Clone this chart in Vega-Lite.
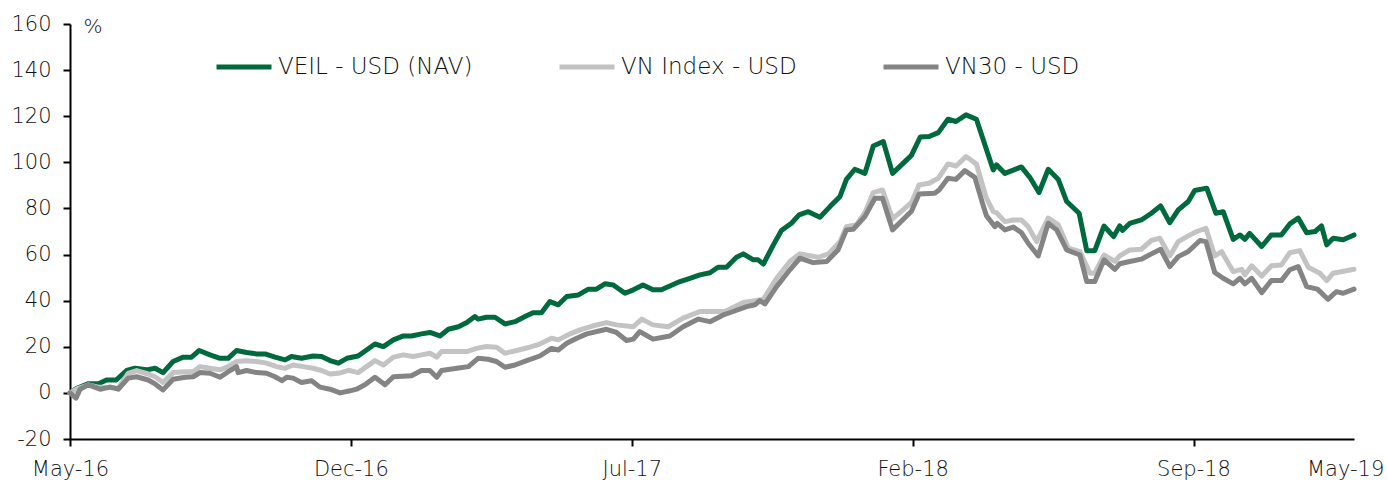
{
  "$schema": "https://vega.github.io/schema/vega-lite/v6.json",
  "autosize": {"type": "none"},
  "width": 1284,
  "height": 415,
  "padding": {"left": 70, "top": 24, "right": 34, "bottom": 41},
  "background": "white",
  "config": {
    "view": {"stroke": null},
    "font": "DejaVu Sans",
    "axis": {"labelFont": "DejaVu Sans", "labelFontWeight": 300, "labelColor": "#111111", "domainColor": "#000000", "domainWidth": 2, "tickColor": "#000000", "tickWidth": 2, "grid": false},
    "legend": {"labelFont": "DejaVu Sans", "labelFontWeight": 300}
  },
  "data": {"values": [
    {"s":"VEIL - USD (NAV)","m":0,"v":0},{"s":"VEIL - USD (NAV)","m":0.17,"v":2},{"s":"VEIL - USD (NAV)","m":0.46,"v":4},{"s":"VEIL - USD (NAV)","m":0.71,"v":4},{"s":"VEIL - USD (NAV)","m":0.91,"v":5.6},{"s":"VEIL - USD (NAV)","m":1.15,"v":5.6},{"s":"VEIL - USD (NAV)","m":1.41,"v":9.7},{"s":"VEIL - USD (NAV)","m":1.62,"v":10.7},{"s":"VEIL - USD (NAV)","m":1.91,"v":10},{"s":"VEIL - USD (NAV)","m":2.12,"v":10.7},{"s":"VEIL - USD (NAV)","m":2.32,"v":8.8},{"s":"VEIL - USD (NAV)","m":2.57,"v":13.6},{"s":"VEIL - USD (NAV)","m":2.82,"v":15.5},{"s":"VEIL - USD (NAV)","m":3.03,"v":15.5},{"s":"VEIL - USD (NAV)","m":3.22,"v":18.4},{"s":"VEIL - USD (NAV)","m":3.49,"v":16.5},{"s":"VEIL - USD (NAV)","m":3.74,"v":15},{"s":"VEIL - USD (NAV)","m":3.94,"v":15},{"s":"VEIL - USD (NAV)","m":4.15,"v":18.4},{"s":"VEIL - USD (NAV)","m":4.4,"v":17.5},{"s":"VEIL - USD (NAV)","m":4.65,"v":16.9},{"s":"VEIL - USD (NAV)","m":4.86,"v":16.9},{"s":"VEIL - USD (NAV)","m":5.11,"v":15.5},{"s":"VEIL - USD (NAV)","m":5.36,"v":14.3},{"s":"VEIL - USD (NAV)","m":5.52,"v":15.8},{"s":"VEIL - USD (NAV)","m":5.77,"v":15},{"s":"VEIL - USD (NAV)","m":6.06,"v":16},{"s":"VEIL - USD (NAV)","m":6.27,"v":15.8},{"s":"VEIL - USD (NAV)","m":6.48,"v":14},{"s":"VEIL - USD (NAV)","m":6.69,"v":12.9},{"s":"VEIL - USD (NAV)","m":6.9,"v":15},{"s":"VEIL - USD (NAV)","m":7.18,"v":16},{"s":"VEIL - USD (NAV)","m":7.39,"v":18.6},{"s":"VEIL - USD (NAV)","m":7.6,"v":21.2},{"s":"VEIL - USD (NAV)","m":7.81,"v":20.1},{"s":"VEIL - USD (NAV)","m":8.06,"v":23},{"s":"VEIL - USD (NAV)","m":8.31,"v":24.7},{"s":"VEIL - USD (NAV)","m":8.51,"v":24.7},{"s":"VEIL - USD (NAV)","m":8.76,"v":25.6},{"s":"VEIL - USD (NAV)","m":8.97,"v":26.2},{"s":"VEIL - USD (NAV)","m":9.22,"v":24.7},{"s":"VEIL - USD (NAV)","m":9.43,"v":27.6},{"s":"VEIL - USD (NAV)","m":9.68,"v":28.7},{"s":"VEIL - USD (NAV)","m":9.89,"v":30.5},{"s":"VEIL - USD (NAV)","m":10.09,"v":33.1},{"s":"VEIL - USD (NAV)","m":10.17,"v":32},{"s":"VEIL - USD (NAV)","m":10.38,"v":32.8},{"s":"VEIL - USD (NAV)","m":10.59,"v":32.8},{"s":"VEIL - USD (NAV)","m":10.84,"v":29.9},{"s":"VEIL - USD (NAV)","m":11.09,"v":30.9},{"s":"VEIL - USD (NAV)","m":11.34,"v":33.1},{"s":"VEIL - USD (NAV)","m":11.54,"v":34.8},{"s":"VEIL - USD (NAV)","m":11.75,"v":34.8},{"s":"VEIL - USD (NAV)","m":11.96,"v":39.6},{"s":"VEIL - USD (NAV)","m":12.17,"v":38.2},{"s":"VEIL - USD (NAV)","m":12.38,"v":41.8},{"s":"VEIL - USD (NAV)","m":12.67,"v":42.5},{"s":"VEIL - USD (NAV)","m":12.92,"v":45},{"s":"VEIL - USD (NAV)","m":13.12,"v":45},{"s":"VEIL - USD (NAV)","m":13.33,"v":47.3},{"s":"VEIL - USD (NAV)","m":13.54,"v":46.8},{"s":"VEIL - USD (NAV)","m":13.83,"v":43.2},{"s":"VEIL - USD (NAV)","m":14.04,"v":44.7},{"s":"VEIL - USD (NAV)","m":14.28,"v":46.8},{"s":"VEIL - USD (NAV)","m":14.53,"v":44.7},{"s":"VEIL - USD (NAV)","m":14.74,"v":44.7},{"s":"VEIL - USD (NAV)","m":15.2,"v":48.3},{"s":"VEIL - USD (NAV)","m":15.45,"v":49.7},{"s":"VEIL - USD (NAV)","m":15.7,"v":51.2},{"s":"VEIL - USD (NAV)","m":15.95,"v":52.1},{"s":"VEIL - USD (NAV)","m":16.15,"v":54.5},{"s":"VEIL - USD (NAV)","m":16.36,"v":54.5},{"s":"VEIL - USD (NAV)","m":16.61,"v":58.8},{"s":"VEIL - USD (NAV)","m":16.78,"v":60.3},{"s":"VEIL - USD (NAV)","m":17.03,"v":57.7},{"s":"VEIL - USD (NAV)","m":17.15,"v":57.7},{"s":"VEIL - USD (NAV)","m":17.28,"v":55.9},{"s":"VEIL - USD (NAV)","m":17.53,"v":64.2},{"s":"VEIL - USD (NAV)","m":17.73,"v":70.4},{"s":"VEIL - USD (NAV)","m":17.98,"v":73.6},{"s":"VEIL - USD (NAV)","m":18.17,"v":77.2},{"s":"VEIL - USD (NAV)","m":18.4,"v":78.6},{"s":"VEIL - USD (NAV)","m":18.69,"v":76.2},{"s":"VEIL - USD (NAV)","m":18.94,"v":80.8},{"s":"VEIL - USD (NAV)","m":19.19,"v":85.2},{"s":"VEIL - USD (NAV)","m":19.35,"v":92.6},{"s":"VEIL - USD (NAV)","m":19.56,"v":97},{"s":"VEIL - USD (NAV)","m":19.81,"v":95.2},{"s":"VEIL - USD (NAV)","m":20.02,"v":107.1},{"s":"VEIL - USD (NAV)","m":20.27,"v":109},{"s":"VEIL - USD (NAV)","m":20.5,"v":95.2},{"s":"VEIL - USD (NAV)","m":20.97,"v":103},{"s":"VEIL - USD (NAV)","m":21.19,"v":111},{"s":"VEIL - USD (NAV)","m":21.41,"v":111.2},{"s":"VEIL - USD (NAV)","m":21.64,"v":112.9},{"s":"VEIL - USD (NAV)","m":21.88,"v":118.7},{"s":"VEIL - USD (NAV)","m":22.08,"v":117.7},{"s":"VEIL - USD (NAV)","m":22.33,"v":120.6},{"s":"VEIL - USD (NAV)","m":22.59,"v":118.7},{"s":"VEIL - USD (NAV)","m":22.83,"v":106.1},{"s":"VEIL - USD (NAV)","m":23.01,"v":96.7},{"s":"VEIL - USD (NAV)","m":23.09,"v":98.9},{"s":"VEIL - USD (NAV)","m":23.3,"v":95.2},{"s":"VEIL - USD (NAV)","m":23.71,"v":98},{"s":"VEIL - USD (NAV)","m":23.92,"v":93.5},{"s":"VEIL - USD (NAV)","m":24.15,"v":86.9},{"s":"VEIL - USD (NAV)","m":24.38,"v":97},{"s":"VEIL - USD (NAV)","m":24.63,"v":92.6},{"s":"VEIL - USD (NAV)","m":24.84,"v":83},{"s":"VEIL - USD (NAV)","m":25.15,"v":77.9},{"s":"VEIL - USD (NAV)","m":25.34,"v":61.7},{"s":"VEIL - USD (NAV)","m":25.54,"v":61.7},{"s":"VEIL - USD (NAV)","m":25.77,"v":72.4},{"s":"VEIL - USD (NAV)","m":26.01,"v":67.8},{"s":"VEIL - USD (NAV)","m":26.16,"v":72.4},{"s":"VEIL - USD (NAV)","m":26.23,"v":70.5},{"s":"VEIL - USD (NAV)","m":26.41,"v":73.5},{"s":"VEIL - USD (NAV)","m":26.7,"v":75},{"s":"VEIL - USD (NAV)","m":26.95,"v":77.9},{"s":"VEIL - USD (NAV)","m":27.18,"v":81.1},{"s":"VEIL - USD (NAV)","m":27.41,"v":73.8},{"s":"VEIL - USD (NAV)","m":27.62,"v":79.4},{"s":"VEIL - USD (NAV)","m":27.87,"v":83},{"s":"VEIL - USD (NAV)","m":28.03,"v":87.8},{"s":"VEIL - USD (NAV)","m":28.33,"v":88.8},{"s":"VEIL - USD (NAV)","m":28.56,"v":77.9},{"s":"VEIL - USD (NAV)","m":28.74,"v":78.6},{"s":"VEIL - USD (NAV)","m":28.99,"v":66.6},{"s":"VEIL - USD (NAV)","m":29.16,"v":68.5},{"s":"VEIL - USD (NAV)","m":29.28,"v":66.6},{"s":"VEIL - USD (NAV)","m":29.4,"v":69.2},{"s":"VEIL - USD (NAV)","m":29.7,"v":63.5},{"s":"VEIL - USD (NAV)","m":29.94,"v":68.5},{"s":"VEIL - USD (NAV)","m":30.19,"v":68.5},{"s":"VEIL - USD (NAV)","m":30.4,"v":73.3},{"s":"VEIL - USD (NAV)","m":30.61,"v":75.8},{"s":"VEIL - USD (NAV)","m":30.82,"v":69.5},{"s":"VEIL - USD (NAV)","m":31.03,"v":70},{"s":"VEIL - USD (NAV)","m":31.19,"v":72.4},{"s":"VEIL - USD (NAV)","m":31.32,"v":64.2},{"s":"VEIL - USD (NAV)","m":31.48,"v":67.1},{"s":"VEIL - USD (NAV)","m":31.73,"v":66.4},{"s":"VEIL - USD (NAV)","m":32,"v":68.5},
    {"s":"VN Index - USD","m":0,"v":0},{"s":"VN Index - USD","m":0.17,"v":1.7},{"s":"VN Index - USD","m":0.46,"v":3.5},{"s":"VN Index - USD","m":0.71,"v":2.5},{"s":"VN Index - USD","m":1,"v":2.5},{"s":"VN Index - USD","m":1.2,"v":2},{"s":"VN Index - USD","m":1.45,"v":8.5},{"s":"VN Index - USD","m":1.66,"v":9.7},{"s":"VN Index - USD","m":1.95,"v":8.2},{"s":"VN Index - USD","m":2.12,"v":7},{"s":"VN Index - USD","m":2.32,"v":4.5},{"s":"VN Index - USD","m":2.57,"v":8.8},{"s":"VN Index - USD","m":2.87,"v":9.2},{"s":"VN Index - USD","m":3.07,"v":9.2},{"s":"VN Index - USD","m":3.24,"v":11.4},{"s":"VN Index - USD","m":3.49,"v":10.7},{"s":"VN Index - USD","m":3.74,"v":10},{"s":"VN Index - USD","m":3.94,"v":11.4},{"s":"VN Index - USD","m":4.15,"v":13.6},{"s":"VN Index - USD","m":4.4,"v":13.9},{"s":"VN Index - USD","m":4.65,"v":13.6},{"s":"VN Index - USD","m":4.9,"v":12.9},{"s":"VN Index - USD","m":5.15,"v":11.4},{"s":"VN Index - USD","m":5.36,"v":10.7},{"s":"VN Index - USD","m":5.56,"v":12.1},{"s":"VN Index - USD","m":5.81,"v":11.4},{"s":"VN Index - USD","m":6.06,"v":10.7},{"s":"VN Index - USD","m":6.27,"v":9.7},{"s":"VN Index - USD","m":6.48,"v":8.2},{"s":"VN Index - USD","m":6.69,"v":8.5},{"s":"VN Index - USD","m":6.94,"v":9.8},{"s":"VN Index - USD","m":7.18,"v":8.8},{"s":"VN Index - USD","m":7.39,"v":11.4},{"s":"VN Index - USD","m":7.6,"v":14},{"s":"VN Index - USD","m":7.81,"v":12.1},{"s":"VN Index - USD","m":8.06,"v":15.5},{"s":"VN Index - USD","m":8.31,"v":16.5},{"s":"VN Index - USD","m":8.55,"v":15.8},{"s":"VN Index - USD","m":8.76,"v":16.5},{"s":"VN Index - USD","m":8.97,"v":17.2},{"s":"VN Index - USD","m":9.14,"v":15.5},{"s":"VN Index - USD","m":9.26,"v":17.9},{"s":"VN Index - USD","m":9.64,"v":17.9},{"s":"VN Index - USD","m":9.89,"v":17.9},{"s":"VN Index - USD","m":10.13,"v":19.3},{"s":"VN Index - USD","m":10.38,"v":20.1},{"s":"VN Index - USD","m":10.63,"v":19.8},{"s":"VN Index - USD","m":10.84,"v":17.2},{"s":"VN Index - USD","m":11.13,"v":18.4},{"s":"VN Index - USD","m":11.46,"v":19.8},{"s":"VN Index - USD","m":11.71,"v":21.2},{"s":"VN Index - USD","m":12,"v":23.7},{"s":"VN Index - USD","m":12.17,"v":23},{"s":"VN Index - USD","m":12.46,"v":25.6},{"s":"VN Index - USD","m":12.71,"v":27.3},{"s":"VN Index - USD","m":13.04,"v":29.1},{"s":"VN Index - USD","m":13.37,"v":30.5},{"s":"VN Index - USD","m":13.62,"v":29.5},{"s":"VN Index - USD","m":14.04,"v":28.7},{"s":"VN Index - USD","m":14.25,"v":32},{"s":"VN Index - USD","m":14.53,"v":29.5},{"s":"VN Index - USD","m":14.91,"v":28.7},{"s":"VN Index - USD","m":15.28,"v":32.4},{"s":"VN Index - USD","m":15.7,"v":35.3},{"s":"VN Index - USD","m":16.32,"v":35.3},{"s":"VN Index - USD","m":16.78,"v":39.2},{"s":"VN Index - USD","m":17.07,"v":40},{"s":"VN Index - USD","m":17.28,"v":40.6},{"s":"VN Index - USD","m":17.61,"v":49.7},{"s":"VN Index - USD","m":17.94,"v":57},{"s":"VN Index - USD","m":18.19,"v":60.3},{"s":"VN Index - USD","m":18.65,"v":58.8},{"s":"VN Index - USD","m":18.9,"v":60.3},{"s":"VN Index - USD","m":19.19,"v":65.6},{"s":"VN Index - USD","m":19.35,"v":72.1},{"s":"VN Index - USD","m":19.6,"v":72.9},{"s":"VN Index - USD","m":19.81,"v":78.2},{"s":"VN Index - USD","m":20.02,"v":86.9},{"s":"VN Index - USD","m":20.25,"v":88},{"s":"VN Index - USD","m":20.5,"v":75.5},{"s":"VN Index - USD","m":20.97,"v":82.5},{"s":"VN Index - USD","m":21.16,"v":90.2},{"s":"VN Index - USD","m":21.41,"v":90.9},{"s":"VN Index - USD","m":21.64,"v":93.1},{"s":"VN Index - USD","m":21.88,"v":99.3},{"s":"VN Index - USD","m":22.08,"v":98.4},{"s":"VN Index - USD","m":22.33,"v":102.5},{"s":"VN Index - USD","m":22.59,"v":99.3},{"s":"VN Index - USD","m":22.83,"v":84.8},{"s":"VN Index - USD","m":23.01,"v":78.6},{"s":"VN Index - USD","m":23.09,"v":78.2},{"s":"VN Index - USD","m":23.3,"v":74.3},{"s":"VN Index - USD","m":23.51,"v":75},{"s":"VN Index - USD","m":23.71,"v":75},{"s":"VN Index - USD","m":23.88,"v":72.1},{"s":"VN Index - USD","m":24.09,"v":65.6},{"s":"VN Index - USD","m":24.38,"v":75.8},{"s":"VN Index - USD","m":24.63,"v":72.9},{"s":"VN Index - USD","m":24.88,"v":62.8},{"s":"VN Index - USD","m":25.17,"v":61.3},{"s":"VN Index - USD","m":25.42,"v":51.9},{"s":"VN Index - USD","m":25.54,"v":51.9},{"s":"VN Index - USD","m":25.77,"v":59.8},{"s":"VN Index - USD","m":26.04,"v":57},{"s":"VN Index - USD","m":26.16,"v":59.4},{"s":"VN Index - USD","m":26.41,"v":62},{"s":"VN Index - USD","m":26.7,"v":62.3},{"s":"VN Index - USD","m":26.95,"v":66.1},{"s":"VN Index - USD","m":27.16,"v":67.1},{"s":"VN Index - USD","m":27.41,"v":59.4},{"s":"VN Index - USD","m":27.62,"v":65.6},{"s":"VN Index - USD","m":27.87,"v":68.1},{"s":"VN Index - USD","m":28.08,"v":70},{"s":"VN Index - USD","m":28.31,"v":71.4},{"s":"VN Index - USD","m":28.53,"v":59.4},{"s":"VN Index - USD","m":28.7,"v":61.3},{"s":"VN Index - USD","m":28.99,"v":52.6},{"s":"VN Index - USD","m":29.2,"v":53.6},{"s":"VN Index - USD","m":29.28,"v":51.2},{"s":"VN Index - USD","m":29.45,"v":55.1},{"s":"VN Index - USD","m":29.7,"v":50.7},{"s":"VN Index - USD","m":29.94,"v":55.1},{"s":"VN Index - USD","m":30.19,"v":55.5},{"s":"VN Index - USD","m":30.4,"v":60.8},{"s":"VN Index - USD","m":30.65,"v":61.7},{"s":"VN Index - USD","m":30.86,"v":54.5},{"s":"VN Index - USD","m":31.15,"v":51.9},{"s":"VN Index - USD","m":31.32,"v":48.7},{"s":"VN Index - USD","m":31.48,"v":51.9},{"s":"VN Index - USD","m":32,"v":53.6},
    {"s":"VN30 - USD","m":0,"v":0},{"s":"VN30 - USD","m":0.15,"v":-2.3},{"s":"VN30 - USD","m":0.25,"v":1.6},{"s":"VN30 - USD","m":0.46,"v":3.5},{"s":"VN30 - USD","m":0.75,"v":1.6},{"s":"VN30 - USD","m":1,"v":2.5},{"s":"VN30 - USD","m":1.2,"v":1.6},{"s":"VN30 - USD","m":1.45,"v":6.4},{"s":"VN30 - USD","m":1.66,"v":7},{"s":"VN30 - USD","m":1.95,"v":5.6},{"s":"VN30 - USD","m":2.12,"v":3.9},{"s":"VN30 - USD","m":2.32,"v":1.3},{"s":"VN30 - USD","m":2.57,"v":5.9},{"s":"VN30 - USD","m":2.87,"v":6.8},{"s":"VN30 - USD","m":3.07,"v":7},{"s":"VN30 - USD","m":3.24,"v":8.8},{"s":"VN30 - USD","m":3.49,"v":8.5},{"s":"VN30 - USD","m":3.74,"v":6.8},{"s":"VN30 - USD","m":3.99,"v":9.7},{"s":"VN30 - USD","m":4.15,"v":11.4},{"s":"VN30 - USD","m":4.19,"v":8.8},{"s":"VN30 - USD","m":4.4,"v":9.7},{"s":"VN30 - USD","m":4.65,"v":8.8},{"s":"VN30 - USD","m":4.9,"v":8.5},{"s":"VN30 - USD","m":5.11,"v":7},{"s":"VN30 - USD","m":5.28,"v":5.3},{"s":"VN30 - USD","m":5.4,"v":6.8},{"s":"VN30 - USD","m":5.56,"v":6.4},{"s":"VN30 - USD","m":5.77,"v":4.5},{"s":"VN30 - USD","m":6.02,"v":5.3},{"s":"VN30 - USD","m":6.23,"v":2.5},{"s":"VN30 - USD","m":6.48,"v":1.6},{"s":"VN30 - USD","m":6.73,"v":0},{"s":"VN30 - USD","m":6.98,"v":0.9},{"s":"VN30 - USD","m":7.14,"v":1.6},{"s":"VN30 - USD","m":7.35,"v":3.5},{"s":"VN30 - USD","m":7.6,"v":6.8},{"s":"VN30 - USD","m":7.85,"v":3.5},{"s":"VN30 - USD","m":8.06,"v":7},{"s":"VN30 - USD","m":8.51,"v":7.4},{"s":"VN30 - USD","m":8.76,"v":9.7},{"s":"VN30 - USD","m":8.97,"v":9.7},{"s":"VN30 - USD","m":9.14,"v":6.8},{"s":"VN30 - USD","m":9.26,"v":9.7},{"s":"VN30 - USD","m":9.64,"v":10.7},{"s":"VN30 - USD","m":9.93,"v":11.4},{"s":"VN30 - USD","m":10.17,"v":15},{"s":"VN30 - USD","m":10.42,"v":14.6},{"s":"VN30 - USD","m":10.63,"v":13.6},{"s":"VN30 - USD","m":10.84,"v":11.1},{"s":"VN30 - USD","m":11.09,"v":12.1},{"s":"VN30 - USD","m":11.38,"v":14},{"s":"VN30 - USD","m":11.71,"v":16},{"s":"VN30 - USD","m":12,"v":19.3},{"s":"VN30 - USD","m":12.17,"v":18.6},{"s":"VN30 - USD","m":12.38,"v":21.5},{"s":"VN30 - USD","m":12.63,"v":23.7},{"s":"VN30 - USD","m":12.88,"v":25.6},{"s":"VN30 - USD","m":13.37,"v":27.6},{"s":"VN30 - USD","m":13.62,"v":26.2},{"s":"VN30 - USD","m":13.87,"v":22.7},{"s":"VN30 - USD","m":14.04,"v":23.3},{"s":"VN30 - USD","m":14.2,"v":26.6},{"s":"VN30 - USD","m":14.53,"v":23.3},{"s":"VN30 - USD","m":14.95,"v":24.7},{"s":"VN30 - USD","m":15.28,"v":28.7},{"s":"VN30 - USD","m":15.66,"v":32},{"s":"VN30 - USD","m":15.95,"v":30.9},{"s":"VN30 - USD","m":16.28,"v":33.8},{"s":"VN30 - USD","m":16.53,"v":35.3},{"s":"VN30 - USD","m":16.86,"v":37.4},{"s":"VN30 - USD","m":17.07,"v":38.2},{"s":"VN30 - USD","m":17.19,"v":40},{"s":"VN30 - USD","m":17.32,"v":38.6},{"s":"VN30 - USD","m":17.61,"v":46.1},{"s":"VN30 - USD","m":17.94,"v":53.4},{"s":"VN30 - USD","m":18.19,"v":58.4},{"s":"VN30 - USD","m":18.52,"v":56.5},{"s":"VN30 - USD","m":18.86,"v":57},{"s":"VN30 - USD","m":19.14,"v":62},{"s":"VN30 - USD","m":19.35,"v":70.7},{"s":"VN30 - USD","m":19.52,"v":71},{"s":"VN30 - USD","m":19.81,"v":76.5},{"s":"VN30 - USD","m":20.06,"v":84.4},{"s":"VN30 - USD","m":20.25,"v":84.4},{"s":"VN30 - USD","m":20.5,"v":70.7},{"s":"VN30 - USD","m":20.97,"v":78.8},{"s":"VN30 - USD","m":21.16,"v":86.3},{"s":"VN30 - USD","m":21.55,"v":86.6},{"s":"VN30 - USD","m":21.66,"v":88},{"s":"VN30 - USD","m":21.88,"v":93.1},{"s":"VN30 - USD","m":22.08,"v":92.6},{"s":"VN30 - USD","m":22.3,"v":96.4},{"s":"VN30 - USD","m":22.55,"v":93.5},{"s":"VN30 - USD","m":22.74,"v":82.3},{"s":"VN30 - USD","m":22.84,"v":76.8},{"s":"VN30 - USD","m":23.05,"v":72.1},{"s":"VN30 - USD","m":23.11,"v":73.5},{"s":"VN30 - USD","m":23.3,"v":70.7},{"s":"VN30 - USD","m":23.51,"v":71.9},{"s":"VN30 - USD","m":23.71,"v":69.5},{"s":"VN30 - USD","m":23.88,"v":64.9},{"s":"VN30 - USD","m":24.13,"v":59.4},{"s":"VN30 - USD","m":24.38,"v":73.6},{"s":"VN30 - USD","m":24.59,"v":70.7},{"s":"VN30 - USD","m":24.84,"v":62},{"s":"VN30 - USD","m":25.17,"v":59.8},{"s":"VN30 - USD","m":25.34,"v":48.3},{"s":"VN30 - USD","m":25.54,"v":48.3},{"s":"VN30 - USD","m":25.77,"v":57.7},{"s":"VN30 - USD","m":26.04,"v":53.6},{"s":"VN30 - USD","m":26.16,"v":56},{"s":"VN30 - USD","m":26.41,"v":57},{"s":"VN30 - USD","m":26.7,"v":58},{"s":"VN30 - USD","m":26.95,"v":60.3},{"s":"VN30 - USD","m":27.18,"v":62.3},{"s":"VN30 - USD","m":27.41,"v":54.8},{"s":"VN30 - USD","m":27.62,"v":59.1},{"s":"VN30 - USD","m":27.87,"v":61.3},{"s":"VN30 - USD","m":28.16,"v":66.1},{"s":"VN30 - USD","m":28.31,"v":65.6},{"s":"VN30 - USD","m":28.53,"v":52.2},{"s":"VN30 - USD","m":28.74,"v":49.7},{"s":"VN30 - USD","m":28.99,"v":47.3},{"s":"VN30 - USD","m":29.16,"v":49.7},{"s":"VN30 - USD","m":29.28,"v":47.3},{"s":"VN30 - USD","m":29.45,"v":49.7},{"s":"VN30 - USD","m":29.7,"v":43.5},{"s":"VN30 - USD","m":29.94,"v":48.7},{"s":"VN30 - USD","m":30.19,"v":48.7},{"s":"VN30 - USD","m":30.4,"v":53.4},{"s":"VN30 - USD","m":30.61,"v":54.8},{"s":"VN30 - USD","m":30.82,"v":46.1},{"s":"VN30 - USD","m":31.09,"v":45},{"s":"VN30 - USD","m":31.35,"v":40.6},{"s":"VN30 - USD","m":31.56,"v":43.9},{"s":"VN30 - USD","m":31.73,"v":43.2},{"s":"VN30 - USD","m":32,"v":45}
  ]},
  "mark": {"type": "line", "strokeWidth": 5, "strokeJoin": "round", "strokeCap": "round", "clip": false},
  "encoding": {
    "x": {
      "field": "m", "type": "quantitative",
      "scale": {"domain": [0, 32], "nice": false, "zero": false},
      "axis": {
        "title": null,
        "values": [0, 7, 14, 21, 28, 31.78],
        "labelExpr": "datum.value == 0 ? 'May-16' : datum.value == 7 ? 'Dec-16' : datum.value == 14 ? 'Jul-17' : datum.value == 21 ? 'Feb-18' : datum.value == 28 ? 'Sep-18' : 'May-19'",
        "labelFontSize": 21,
        "labelPadding": 12,
        "labelFlush": false,
        "labelOverlap": false,
        "labelBound": false,
        "tickSize": 7,
        "tickOpacity": {"condition": {"test": "datum.value > 31", "value": 0}, "value": 1}
      }
    },
    "y": {
      "field": "v", "type": "quantitative",
      "scale": {"domain": [-20, 160], "nice": false, "zero": false},
      "axis": {
        "title": "%",
        "titleAngle": 0,
        "titleX": 13,
        "titleY": 2,
        "titleAlign": "left",
        "titleBaseline": "middle",
        "titleFont": "DejaVu Sans",
        "titleFontSize": 20,
        "titleFontWeight": 300,
        "titleColor": "#111111",
        "values": [-20, 0, 20, 40, 60, 80, 100, 120, 140, 160],
        "labelExpr": "'' + datum.value",
        "labelFontSize": 21,
        "labelPadding": 12,
        "tickSize": 7
      }
    },
    "color": {
      "field": "s", "type": "nominal",
      "scale": {"domain": ["VEIL - USD (NAV)", "VN Index - USD", "VN30 - USD"], "range": ["#00693E", "#C3C3C3", "#848484"]},
      "legend": {
        "title": null,
        "orient": "none",
        "legendX": 144,
        "legendY": 13,
        "direction": "horizontal",
        "symbolType": "stroke",
        "symbolSize": 3025,
        "symbolStrokeWidth": 5,
        "labelFontSize": 23,
        "labelColor": "#111111",
        "labelLimit": 500,
        "labelOffset": 4,
        "columnPadding": 76
      }
    }
  }
}
